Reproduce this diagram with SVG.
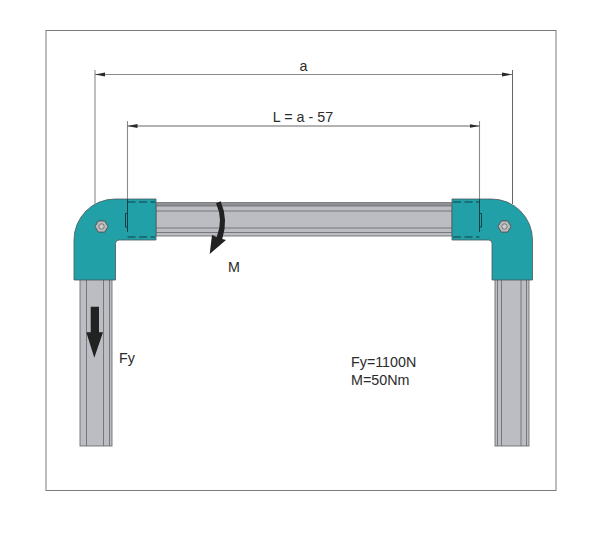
<svg xmlns="http://www.w3.org/2000/svg" width="600" height="534" viewBox="0 0 600 534">
<defs>
<marker id="ah" markerWidth="11" markerHeight="6" refX="10" refY="2.5" orient="auto-start-reverse" markerUnits="userSpaceOnUse"><path d="M0 0.6L10 2.5L0 4.4Z" fill="#2a2a2a"/></marker>
<g id="bolt"><polygon points="-6.5,0 -3.2,-5.6 3.2,-5.6 6.5,0 3.2,5.6 -3.2,5.6" fill="#b9bbbf" stroke="#555" stroke-width="1"/><circle r="2.7" fill="#c9cacc" stroke="#666" stroke-width="0.8"/></g>
</defs>
<style>
text{font-family:"Liberation Sans",Arial,sans-serif;font-size:14.300px;fill:#2b2b2b}
.fit{fill:#22a0a8;stroke:#47585c;stroke-width:0.8}
.bar{fill:#bcbdc2;stroke:#6e6f73;stroke-width:0.9}
.gr{fill:none;stroke:#6e6f73;stroke-width:0.9}
.dash{fill:none;stroke:#123f44;stroke-width:1;stroke-dasharray:8 3.5}
.in{fill:none;stroke:#123f44;stroke-width:1}
.dim{fill:none;stroke:#555;stroke-width:0.9}
.dimg{fill:none;stroke:#8a8a8a;stroke-width:1.100}
</style>
<rect x="46" y="30.500" width="510" height="460" fill="#fff" stroke="#6d6d6d" stroke-width="0.9"/>

<g id="beam">
<rect class="bar" x="156" y="202.500" width="296" height="33.500"/>
<rect x="156" y="202.500" width="296" height="3.500" fill="#8f9094"/>
<path class="gr" d="M156 206H452M156 211H452M156 228H452M156 232.500H452"/>
</g>
<g id="left-post">
<rect class="bar" x="80" y="279" width="32" height="167"/>
<path class="gr" d="M86.500 279V446M103.500 279V446M109.500 279V446"/>
</g>
<g id="right-post">
<rect class="bar" x="495" y="279" width="34" height="167"/>
<path class="gr" d="M497.500 279V446M501.500 279V446M521 279V446M526.500 279V446"/>
</g>

<g id="left-elbow">
<path class="fit" d="M156 199V240H119Q115.500 240 115.500 243.500V280H74V240A41 41 0 0 1 115 199Z"/>
<path class="dash" d="M127.500 202H155M127.500 237H155"/>
<path class="in" d="M127.500 199V232M127.500 213.500H125.500V227H127.500"/>
<use href="#bolt" x="101.500" y="226.500"/>
</g>
<g id="right-elbow">
<path class="fit" d="M452 199V240H488.500Q492 240 492 243.500V280H532.500V240A41 41 0 0 0 491.500 199Z"/>
<path class="dash" d="M453 202H479.500M453 237H479.500"/>
<path class="in" d="M479.500 199V232M479.500 213.500H481.500V227H479.500"/>
<use href="#bolt" x="504.500" y="226.500"/>
</g>

<g id="connectors">
<path class="dimg" d="M95 70V204M127.500 121V199M479.500 121V199"/>
<path class="dim" d="M512.500 70V204"/>
<path class="dimg" d="M95 74.500H512" marker-start="url(#ah)" marker-end="url(#ah)"/>
<path class="dim" d="M127.500 126H479.500" marker-start="url(#ah)" marker-end="url(#ah)"/>
</g>

<g id="moment-arrow">
<path d="M216 203.300L220.700 201.300Q228.500 220 222.300 239L226 240L209.700 254L212 235L216.700 237Q223.600 220 216 203.300Z" fill="#222"/>
</g>
<g id="force-arrow">
<path d="M90.700 306.700H99V332.300H103L94.300 357.700L86.300 332.300H90.700Z" fill="#222"/>
</g>

<g id="labels">
<text x="303.500" y="71" text-anchor="middle">a</text>
<text x="303" y="122" text-anchor="middle">L = a - 57</text>
<text x="228" y="272">M</text>
<text x="119" y="363">Fy</text>
<text x="351" y="367">Fy=1100N</text>
<text x="351" y="385">M=50Nm</text>
</g>
</svg>
